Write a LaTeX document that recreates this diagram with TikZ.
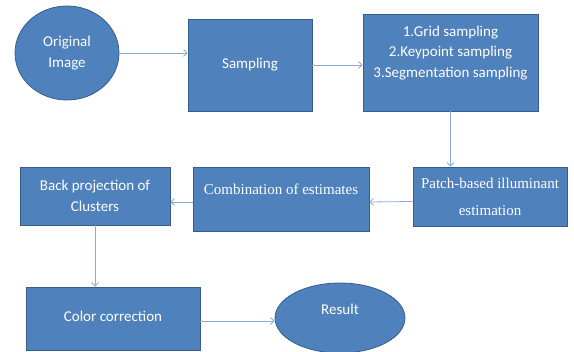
\documentclass[tikz,border=0pt]{standalone}
\usepackage{fontspec}
\setmainfont{Carlito}
\newfontfamily\serifbox{Liberation Serif}
\usetikzlibrary{arrows.meta,positioning,shapes.geometric}
\definecolor{BoxBlue}{RGB}{79,129,189}
\definecolor{BoxEdge}{RGB}{56,93,138}
\definecolor{LineBlue}{RGB}{143,170,207}

\begin{document}
\begin{tikzpicture}[x=1pt,y=-1pt,
    stepbox/.style={rectangle, draw=BoxEdge, fill=BoxBlue, line width=0.8pt,
      text=white, align=center, font=\fontsize{15}{20.5}\selectfont, inner sep=2pt},
    roundbox/.style={ellipse, draw=BoxEdge, fill=BoxBlue, line width=0.8pt,
      text=white, align=center, font=\fontsize{15}{20.5}\selectfont, inner sep=0pt},
    conn/.style={draw=LineBlue, line width=0.8pt, -{Straight Barb[length=3.5pt,width=7pt]}}]
        \useasboundingbox (0,0) rectangle (574,352);
        % top row
        \node[roundbox, minimum width=104pt, minimum height=94pt] (orig) at (67,53) {Original\\Image};
        \node[stepbox, minimum width=124pt, minimum height=92pt, text depth=4pt] (samp) at (250,65) {Sampling};
        \node[stepbox, minimum width=175pt, minimum height=97pt, text depth=22pt] (grid) at (450.5,62.5)
          {1.Grid sampling\\2.Keypoint sampling\\3.Segmentation sampling};
        % middle row
        \node[stepbox, minimum width=154pt, minimum height=59pt, font=\serifbox\fontsize{15}{27}\selectfont] (patch) at (490,196.5)
          {Patch-based illuminant\\estimation};
        \node[stepbox, minimum width=176pt, minimum height=64pt, text depth=20pt, font=\serifbox\fontsize{15}{20}\selectfont] (comb) at (281,199)
          {Combination of estimates};
        \node[stepbox, minimum width=150pt, minimum height=58pt] (back) at (95,196) {Back projection of\\Clusters};
        % bottom row
        \node[stepbox, minimum width=174pt, minimum height=63pt, text depth=4pt] (color) at (113,318.5) {Color correction};
        \node[roundbox, minimum width=130pt, minimum height=70pt, text depth=18pt] (result) at (340,318) {Result};
        % connectors
        \draw[conn] (orig.east) -- (samp.west |- orig.east);
        \draw[conn] (samp.east) -- (grid.west |- samp.east);
        \draw[conn] (grid.south) -- (grid.south |- patch.north);
        \draw[conn] ([yshift=-5pt]patch.west) -- ([yshift=-3pt]comb.east);
        \draw[conn] ([yshift=-3pt]comb.west) -- ([yshift=-6pt]back.east);
        \draw[conn] (back.south) -- (back.south |- color.north);
        \draw[conn] ([yshift=-2.5pt]color.east) -- ([yshift=-3pt]result.west);
      \end{tikzpicture}
\end{document}
